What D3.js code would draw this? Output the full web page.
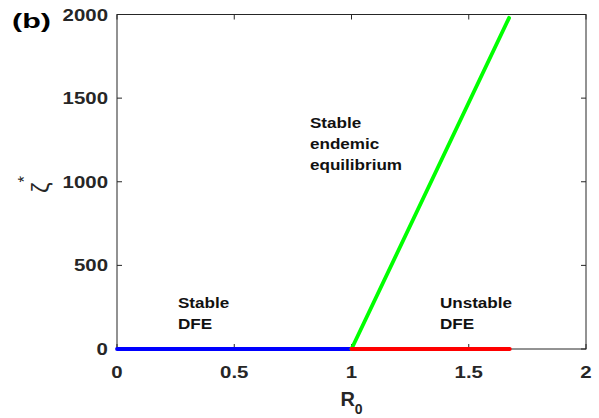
<!DOCTYPE html>
<html>
<head>
<meta charset="utf-8">
<script src="https://cdn.jsdelivr.net/npm/d3@7"></script>
<style>
  body { margin: 0; background: #fff; }
  text { font-family: "Liberation Sans", Arial, sans-serif; fill: #262626; }
</style>
</head>
<body>
<svg id="chart" width="599" height="418"></svg>
<script>
// data
var xTicks = [0, 0.5, 1, 1.5, 2]
var yTicks = [0, 500, 1000, 1500, 2000]
var dfeStableR0 = [0, 1]
var dfeStableV = [0, 0]
var dfeUnstableR0 = [1, 1.675]
var dfeUnstableV = [0, 0]
var endemicR0 = [1, 1.672]
var endemicV = [0, 1980]
var labelStableDFE = ["Stable", "DFE"]
var labelUnstableDFE = ["Unstable", "DFE"]
var labelEndemic = ["Stable", "endemic", "equilibrium"]

var svg = d3.select("#chart")
// plot box (note: "top" is taken by window.top, so own names here)
var boxL = 117, boxR = 586, boxT = 14.5, boxB = 349

var x = d3.scaleLinear().domain([0, 2]).range([boxL, boxR])
var y = d3.scaleLinear().domain([0, 2000]).range([boxB, boxT])

// widen text like the stretched original figure
function stretch(sel, f)
{
  sel.each(function()
  {
    var w = this.getComputedTextLength()
    d3.select(this).attr("textLength", w * f).attr("lengthAdjust", "spacingAndGlyphs")
  })
}

// box
svg.append("rect")
   .attr("x", boxL).attr("y", boxT)
   .attr("width", boxR - boxL).attr("height", boxB - boxT)
   .attr("fill", "none").attr("stroke", "#262626").attr("stroke-width", 1)

// ticks on all four sides, pointing in
var ax = svg.append("g").attr("stroke", "#262626").attr("stroke-width", 1)
xTicks.forEach(function(t)
{
  ax.append("line").attr("x1", x(t)).attr("x2", x(t)).attr("y1", boxB).attr("y2", boxB - 5)
  ax.append("line").attr("x1", x(t)).attr("x2", x(t)).attr("y1", boxT).attr("y2", boxT + 5)
})
yTicks.forEach(function(t)
{
  ax.append("line").attr("x1", boxL).attr("x2", boxL + 5).attr("y1", y(t)).attr("y2", y(t))
  ax.append("line").attr("x1", boxR).attr("x2", boxR - 5).attr("y1", y(t)).attr("y2", y(t))
})

// tick labels
svg.selectAll(".xt").data(xTicks).enter().append("text")
   .attr("class", "xt")
   .attr("x", function(d) { return x(d) })
   .attr("y", 378)
   .attr("text-anchor", "middle")
   .style("font-size", "17px").style("font-weight", "bold")
   .text(function(d) { return d })
   .call(stretch, 1.2)

svg.selectAll(".yt").data(yTicks).enter().append("text")
   .attr("class", "yt")
   .attr("x", 108)
   .attr("y", function(d) { return y(d) })
   .attr("dy", "0.36em")
   .attr("text-anchor", "end")
   .style("font-size", "17px").style("font-weight", "bold")
   .text(function(d) { return d })
   .call(stretch, 1.2)

// curves
var line = d3.line().x(function(d) { return x(d[0]) }).y(function(d) { return y(d[1]) })
function curve(xs, vs, colour)
{
  svg.append("path")
     .datum(d3.zip(xs, vs))
     .attr("d", line)
     .attr("fill", "none")
     .attr("stroke", colour)
     .attr("stroke-width", 3.8)
     .attr("stroke-linecap", "round")
}
curve(dfeStableR0, dfeStableV, "#0000ff")
curve(endemicR0, endemicV, "#00ff00")
curve(dfeUnstableR0, dfeUnstableV, "#ff0000")

// annotations
function note(lines, px, py)
{
  var t = svg.append("g")
  lines.forEach(function(s, i)
  {
    t.append("text")
     .attr("x", x(px)).attr("y", y(py) + i * 21)
     .style("font-size", "14px").style("font-weight", "bold")
     .style("fill", "#111")
     .text(s)
     .call(stretch, 1.22)
  })
}
note(labelStableDFE, 0.26, 245)
note(labelUnstableDFE, 1.377, 245)
note(labelEndemic, 0.823, 1323)

// axis titles
var xl = svg.append("text")
   .attr("x", x(1)).attr("y", 406)
   .attr("text-anchor", "middle")
   .style("font-size", "20px").style("font-weight", "bold")
xl.append("tspan").text("R")
xl.append("tspan").attr("dy", 8).style("font-size", "14px").text("0")

var yl = svg.append("text")
   .attr("transform", "translate(49,193) rotate(-90)")
   .style("font-size", "24px")
yl.append("tspan").text("ζ")
yl.append("tspan").attr("dy", -19).attr("dx", 0).style("font-size", "17px").text("*")

// panel letter
svg.append("text")
   .attr("x", 12).attr("y", 28)
   .style("font-size", "21px").style("font-weight", "bold")
   .style("fill", "#000")
   .text("(b)")
   .call(stretch, 1.45)
</script>
</body>
</html>
